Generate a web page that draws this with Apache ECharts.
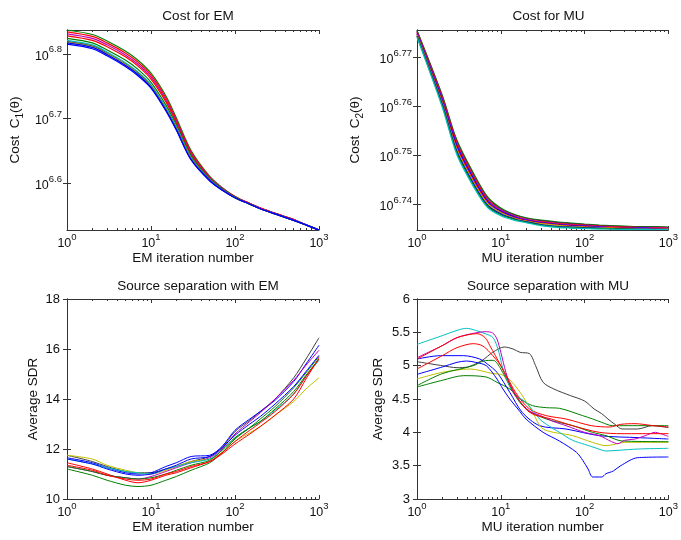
<!DOCTYPE html>
<html><head><meta charset="utf-8">
<script src="https://cdn.jsdelivr.net/npm/echarts@6/dist/echarts.min.js"></script>
<style>html,body{margin:0;padding:0;background:#fff}#c{width:681px;height:540px}</style>
</head><body><div id="c"></div>
<script>
// Shared iteration grid for the cost curves and the EM separation curves
const iters = [1,2,3,5,7,10,15,20,30,50,70,100,150,200,300,500,700,1000];

// Cost for EM: log10 of C1(theta)
const emCostColors = ['g','r','m','r','g','c','k','y','b','b'];
const emCost = [
  [6.837,6.830,6.820,6.804,6.790,6.770,6.735,6.701,6.650,6.610,6.593,6.579,6.568,6.561,6.553,6.543,6.535,6.527],
  [6.834,6.827,6.817,6.801,6.787,6.767,6.732,6.698,6.648,6.609,6.592,6.579,6.568,6.561,6.553,6.543,6.535,6.527],
  [6.831,6.824,6.814,6.798,6.784,6.764,6.729,6.696,6.646,6.608,6.592,6.578,6.568,6.561,6.553,6.543,6.535,6.527],
  [6.828,6.821,6.811,6.795,6.781,6.761,6.726,6.693,6.644,6.607,6.591,6.578,6.568,6.561,6.553,6.543,6.535,6.527],
  [6.824,6.817,6.806,6.790,6.776,6.756,6.721,6.690,6.642,6.606,6.591,6.578,6.567,6.560,6.552,6.542,6.535,6.527],
  [6.821,6.814,6.803,6.786,6.772,6.752,6.717,6.687,6.639,6.605,6.590,6.577,6.567,6.560,6.552,6.542,6.535,6.527],
  [6.819,6.812,6.801,6.784,6.770,6.750,6.715,6.685,6.638,6.604,6.590,6.577,6.567,6.560,6.552,6.542,6.535,6.527],
  [6.818,6.811,6.800,6.783,6.769,6.749,6.714,6.684,6.637,6.604,6.589,6.577,6.567,6.560,6.552,6.542,6.535,6.527],
  [6.817,6.810,6.799,6.782,6.768,6.748,6.713,6.683,6.636,6.604,6.589,6.577,6.567,6.560,6.552,6.542,6.535,6.527],
  [6.815,6.808,6.797,6.780,6.766,6.747,6.712,6.682,6.636,6.603,6.589,6.577,6.567,6.560,6.552,6.542,6.535,6.527]
];

// Cost for MU: log10 of C2(theta)
const muCostColors = ['g','k','r','m','b','r','y','b','g','c'];
const muCost = [
  [6.7754,6.7622,6.7530,6.7455,6.7414,6.7392,6.7378,6.7372,6.7367,6.7363,6.7361,6.7359,6.7357,6.7356,6.7355,6.7354,6.7354,6.7353],
  [6.7753,6.7620,6.7527,6.7452,6.7412,6.7390,6.7377,6.7371,6.7366,6.7362,6.7360,6.7358,6.7356,6.7355,6.7354,6.7353,6.7353,6.7352],
  [6.7751,6.7617,6.7524,6.7449,6.7409,6.7388,6.7375,6.7369,6.7364,6.7360,6.7358,6.7357,6.7355,6.7354,6.7353,6.7352,6.7352,6.7351],
  [6.7750,6.7615,6.7521,6.7446,6.7407,6.7387,6.7374,6.7368,6.7363,6.7359,6.7357,6.7356,6.7354,6.7353,6.7352,6.7352,6.7351,6.7351],
  [6.7748,6.7612,6.7518,6.7444,6.7405,6.7385,6.7373,6.7367,6.7362,6.7358,6.7356,6.7355,6.7353,6.7352,6.7351,6.7351,6.7350,6.7350],
  [6.7746,6.7609,6.7514,6.7440,6.7402,6.7383,6.7371,6.7366,6.7361,6.7357,6.7355,6.7354,6.7352,6.7352,6.7351,6.7350,6.7350,6.7349],
  [6.7745,6.7606,6.7510,6.7437,6.7400,6.7382,6.7370,6.7365,6.7360,6.7356,6.7354,6.7353,6.7352,6.7351,6.7350,6.7350,6.7349,6.7349],
  [6.7743,6.7604,6.7507,6.7434,6.7397,6.7380,6.7369,6.7364,6.7358,6.7354,6.7353,6.7352,6.7351,6.7350,6.7349,6.7349,6.7349,6.7348],
  [6.7742,6.7601,6.7504,6.7431,6.7395,6.7378,6.7368,6.7363,6.7357,6.7353,6.7352,6.7351,6.7350,6.7350,6.7349,6.7348,6.7348,6.7348],
  [6.7740,6.7598,6.7500,6.7428,6.7392,6.7376,6.7366,6.7362,6.7356,6.7352,6.7351,6.7350,6.7349,6.7349,6.7348,6.7348,6.7348,6.7348]
];

// Source separation with EM: average SDR
const emSdrColors = ['k','b','m','y','c','g','r','b','g','r'];
const emSdr = [
  [11.75,11.5,11.3,11.1,11.05,11.05,11.2,11.3,11.5,11.7,12.05,12.7,13.15,13.5,14.0,14.85,15.6,16.45],
  [11.65,11.45,11.25,11.05,11.0,11.05,11.3,11.45,11.7,11.75,12.1,12.75,13.2,13.5,13.95,14.7,15.4,16.15],
  [11.3,11.1,10.95,10.85,10.8,10.9,11.1,11.25,11.45,11.65,12.0,12.6,13.1,13.45,14.0,14.75,15.35,15.95],
  [11.75,11.6,11.35,11.15,11.05,11.0,11.15,11.3,11.5,11.6,11.85,12.3,12.65,12.9,13.35,13.9,14.4,14.85],
  [11.6,11.4,11.25,11.1,11.05,11.0,11.2,11.3,11.45,11.6,11.95,12.45,12.85,13.1,13.55,14.2,14.9,15.55],
  [11.2,10.95,10.75,10.55,10.5,10.55,10.75,10.9,11.15,11.45,11.85,12.4,12.85,13.2,13.7,14.45,15.05,15.7],
  [11.45,11.2,11.0,10.75,10.65,10.75,10.95,11.05,11.25,11.5,11.8,12.2,12.6,12.9,13.35,14.0,14.8,15.65],
  [11.6,11.4,11.2,11.0,10.95,11.0,11.2,11.35,11.6,11.7,12.05,12.55,13.0,13.3,13.8,14.5,15.1,15.75],
  [11.3,11.1,10.95,10.85,10.8,10.85,11.0,11.15,11.35,11.55,11.95,12.45,12.85,13.1,13.6,14.3,14.95,15.6],
  [11.35,11.15,10.95,10.8,10.75,10.8,11.0,11.1,11.3,11.5,11.85,12.3,12.75,13.05,13.5,14.2,14.9,15.6]
];

// Source separation with MU: average SDR, [iteration, SDR] pairs
const muSdrColors = ['k','g','b','y','g','r','b','c','m','r'];
const muSdr = [
  [[1,5.06],[2,5.0],[3,4.97],[4,4.98],[6,5.08],[8,5.2],[11,5.28],[14,5.25],[17,5.2],[22,5.18],[26,5.0],[32,4.75],[43,4.65],[68,4.55],[100,4.47],[130,4.35],[160,4.28],[190,4.2],[230,4.12],[280,4.05],[430,4.05],[640,4.1],[1000,4.07]],
  [[1,4.68],[2,4.78],[3.6,4.85],[6.7,4.83],[9,4.75],[12.8,4.65],[17,4.5],[24,4.4],[35,4.37],[50,4.36],[95,4.25],[125,4.2],[160,4.15],[215,4.1],[1000,4.1]],
  [[1,5.1],[1.9,5.15],[3.6,5.15],[5.6,5.1],[7,5.02],[9,4.9],[12.8,4.6],[18,4.3],[29,4.1],[60,4.05],[150,3.95],[445,3.92],[1000,3.9]],
  [[1,4.8],[2,4.9],[4.3,4.95],[8.1,4.88],[10,4.87],[12.5,4.8],[17,4.6],[24,4.3],[32,4.05],[72,3.95],[124,3.85],[180,3.8],[308,3.85],[1000,3.85]],
  [[1,4.7],[2,4.88],[4.7,5.0],[6.2,5.07],[8.1,5.08],[10,4.95],[14,4.6],[20,4.35],[35,4.2],[72,4.1],[124,4.0],[180,3.95],[280,3.87],[1000,3.86]],
  [[1,4.95],[2,5.15],[3,5.27],[4.7,5.33],[6,5.3],[7.4,5.2],[10,5.0],[12,4.82],[15,4.6],[22,4.35],[35,4.25],[60,4.2],[120,4.1],[200,4.08],[270,4.12],[400,4.13],[660,4.1],[1000,4.08]],
  [[1,4.87],[2,4.98],[3,5.05],[3.9,5.07],[5,5.05],[6.7,5.0],[9,4.8],[10.6,4.65],[12.8,4.5],[16,4.35],[20,4.2],[32,4.0],[50,3.87],[80,3.7],[95,3.58],[110,3.45],[125,3.33],[160,3.33],[180,3.38],[200,3.4],[220,3.42],[270,3.5],[430,3.62],[1000,3.63]],
  [[1,5.32],[2,5.45],[3,5.53],[3.9,5.56],[5,5.53],[6.5,5.48],[8.1,5.42],[9.5,5.2],[10.6,4.95],[12.8,4.7],[15.3,4.55],[20,4.45],[25,4.3],[29,4.2],[35,4.12],[50,4.0],[72,3.88],[100,3.82],[140,3.76],[180,3.72],[250,3.73],[440,3.75],[1000,3.76]],
  [[1,5.12],[2,5.3],[3,5.42],[4.5,5.48],[6.7,5.51],[8,5.49],[9,5.4],[10,5.2],[11.5,4.9],[13,4.7],[16,4.5],[22,4.32],[30,4.25],[41,4.17],[60,4.1],[100,4.0],[150,3.95],[210,3.86],[250,3.83],[300,3.88],[400,3.9],[530,3.95],[700,4.0],[800,3.98],[1000,3.94]],
  [[1,5.1],[2,5.3],[3,5.42],[5.2,5.48],[6.5,5.42],[7.4,5.3],[10,5.0],[12,4.8],[14.5,4.6],[22,4.3],[40,4.2],[72,4.1],[150,4.0],[280,3.98],[1000,3.98]]
];

// Tick labels
const emCostTicks = [6.6, 6.7, 6.8];
const muCostTicks = [6.74, 6.75, 6.76, 6.77];
const titles = ['Cost for EM', 'Cost for MU', 'Source separation with EM', 'Source separation with MU'];
const xNames = ['EM iteration number', 'MU iteration number', 'EM iteration number', 'MU iteration number'];

const COL = {b:'#0000ff', g:'#008000', r:'#ff0000', c:'#00bfbf', m:'#bf00bf', y:'#bfbf00', k:'#404040'};
const FONT = 'Liberation Sans, Arial, sans-serif';
const AX = '#333';
const TXT = '#111';
const FS = 13.5;   // titles and axis names
const TS = 12.5;   // tick numbers

const minorTicks = [];
for (let d = 0; d < 3; d++) for (let k = 2; k <= 9; k++) minorTicks.push(d + Math.log10(k));

const supRich = {
  b: {fontSize: TS, fontFamily: FONT, color: TXT, lineHeight: 18, verticalAlign: 'bottom'},
  s: {fontSize: 9.5, fontFamily: FONT, color: TXT, lineHeight: 12, verticalAlign: 'top'}
};

const grids = [
  {left: 67, top: 30, width: 252, height: 200},
  {left: 417, top: 30, width: 253, height: 200},
  {left: 67, top: 299, width: 252, height: 200},
  {left: 417, top: 299, width: 252, height: 200}
];

const xAxis = [], yAxis = [], series = [], title = [];
const lineAx = {show: true, lineStyle: {color: AX, width: 1}};

grids.forEach((g, i) => {
  title.push({text: titles[i], left: g.left + g.width / 2, top: i < 2 ? 4 : 274, textAlign: 'center',
    textStyle: {fontFamily: FONT, fontSize: FS, fontWeight: 'normal', color: TXT}});
  // main bottom log axis
  xAxis.push({type: 'log', logBase: 10, gridIndex: i, min: 1, max: 1000, position: 'bottom',
    axisLine: lineAx, axisTick: {inside: true, length: 4, lineStyle: {color: AX}},
    splitLine: {show: false},
    axisLabel: {margin: 2, formatter: v => '{b|10}{s|' + Math.round(Math.log10(v)) + '}', rich: supRich},
    name: xNames[i], nameLocation: 'middle', nameGap: 17,
    nameTextStyle: {fontFamily: FONT, fontSize: FS, color: TXT}});
  // top log axis (box + ticks)
  xAxis.push({type: 'log', logBase: 10, gridIndex: i, min: 1, max: 1000, position: 'top',
    axisLine: lineAx, axisTick: {inside: true, length: 4, lineStyle: {color: AX}},
    splitLine: {show: false}, axisLabel: {show: false}});
  // minor ticks, bottom and top
  ['bottom', 'top'].forEach(p => xAxis.push({type: 'value', gridIndex: i, min: 0, max: 3, position: p,
    axisLine: {show: false}, splitLine: {show: false}, axisLabel: {show: false},
    axisTick: {show: true, inside: true, length: 2, customValues: minorTicks, lineStyle: {color: AX}}}));

  let ycfg;
  if (i === 0) ycfg = {min: 6.527, max: 6.837, custom: emCostTicks, fmt: v => '{b|10}{s|' + v.toFixed(1) + '}', name: '{n|Cost  C}{u|1}{n|(θ)}', gap: 42};
  if (i === 1) ycfg = {min: 6.7347, max: 6.7755, custom: muCostTicks, fmt: v => '{b|10}{s|' + v.toFixed(2) + '}', name: '{n|Cost  C}{u|2}{n|(θ)}', gap: 52};
  if (i === 2) ycfg = {min: 10, max: 18, interval: 2, name: 'Average SDR', gap: 27};
  if (i === 3) ycfg = {min: 3, max: 6, interval: 0.5, name: 'Average SDR', gap: 32};

  const yMain = {type: 'value', gridIndex: i, min: ycfg.min, max: ycfg.max, position: 'left',
    axisLine: lineAx, splitLine: {show: false},
    axisTick: {inside: true, length: 4, lineStyle: {color: AX}},
    axisLabel: {margin: i < 2 ? 5 : 7, fontFamily: FONT, fontSize: TS + 0.5, color: TXT},
    name: ycfg.name, nameLocation: 'middle', nameGap: ycfg.gap,
    nameTextStyle: {fontFamily: FONT, fontSize: FS, color: TXT,
      rich: {n: {fontFamily: FONT, fontSize: FS, color: TXT, lineHeight: 17, verticalAlign: 'top'},
             u: {fontFamily: FONT, fontSize: 10, color: TXT, lineHeight: 17, verticalAlign: 'bottom'}}}};
  const yRight = {type: 'value', gridIndex: i, min: ycfg.min, max: ycfg.max, position: 'right',
    axisLine: lineAx, splitLine: {show: false}, axisLabel: {show: false},
    axisTick: {inside: true, length: 4, lineStyle: {color: AX}}};
  if (ycfg.custom) {
    yMain.axisLabel.customValues = ycfg.custom;
    yMain.axisLabel.formatter = ycfg.fmt;
    yMain.axisLabel.rich = supRich;
    yMain.axisTick.customValues = ycfg.custom;
    yRight.axisTick.customValues = ycfg.custom;
  } else {
    yMain.interval = ycfg.interval;
    yRight.interval = ycfg.interval;
  }
  yAxis.push(yMain, yRight);
});

function addLines(gi, arr, colors, pairs) {
  arr.forEach((vals, k) => {
    series.push({type: 'line', xAxisIndex: gi * 4, yAxisIndex: gi * 2,
      data: pairs ? vals : vals.map((v, j) => [iters[j], v]),
      showSymbol: false, symbol: 'none', smooth: 0.3, animation: false,
      lineStyle: {width: gi < 2 ? 1.2 : 1, color: COL[colors[k]]}, z: 2});
  });
}
addLines(0, emCost, emCostColors, false);
addLines(1, muCost, muCostColors, false);
addLines(2, emSdr, emSdrColors, false);
addLines(3, muSdr, muSdrColors, true);

const chart = echarts.init(document.getElementById('c'));
chart.setOption({backgroundColor: '#fff', animation: false, title, grid: grids, xAxis, yAxis, series});
</script></body></html>
